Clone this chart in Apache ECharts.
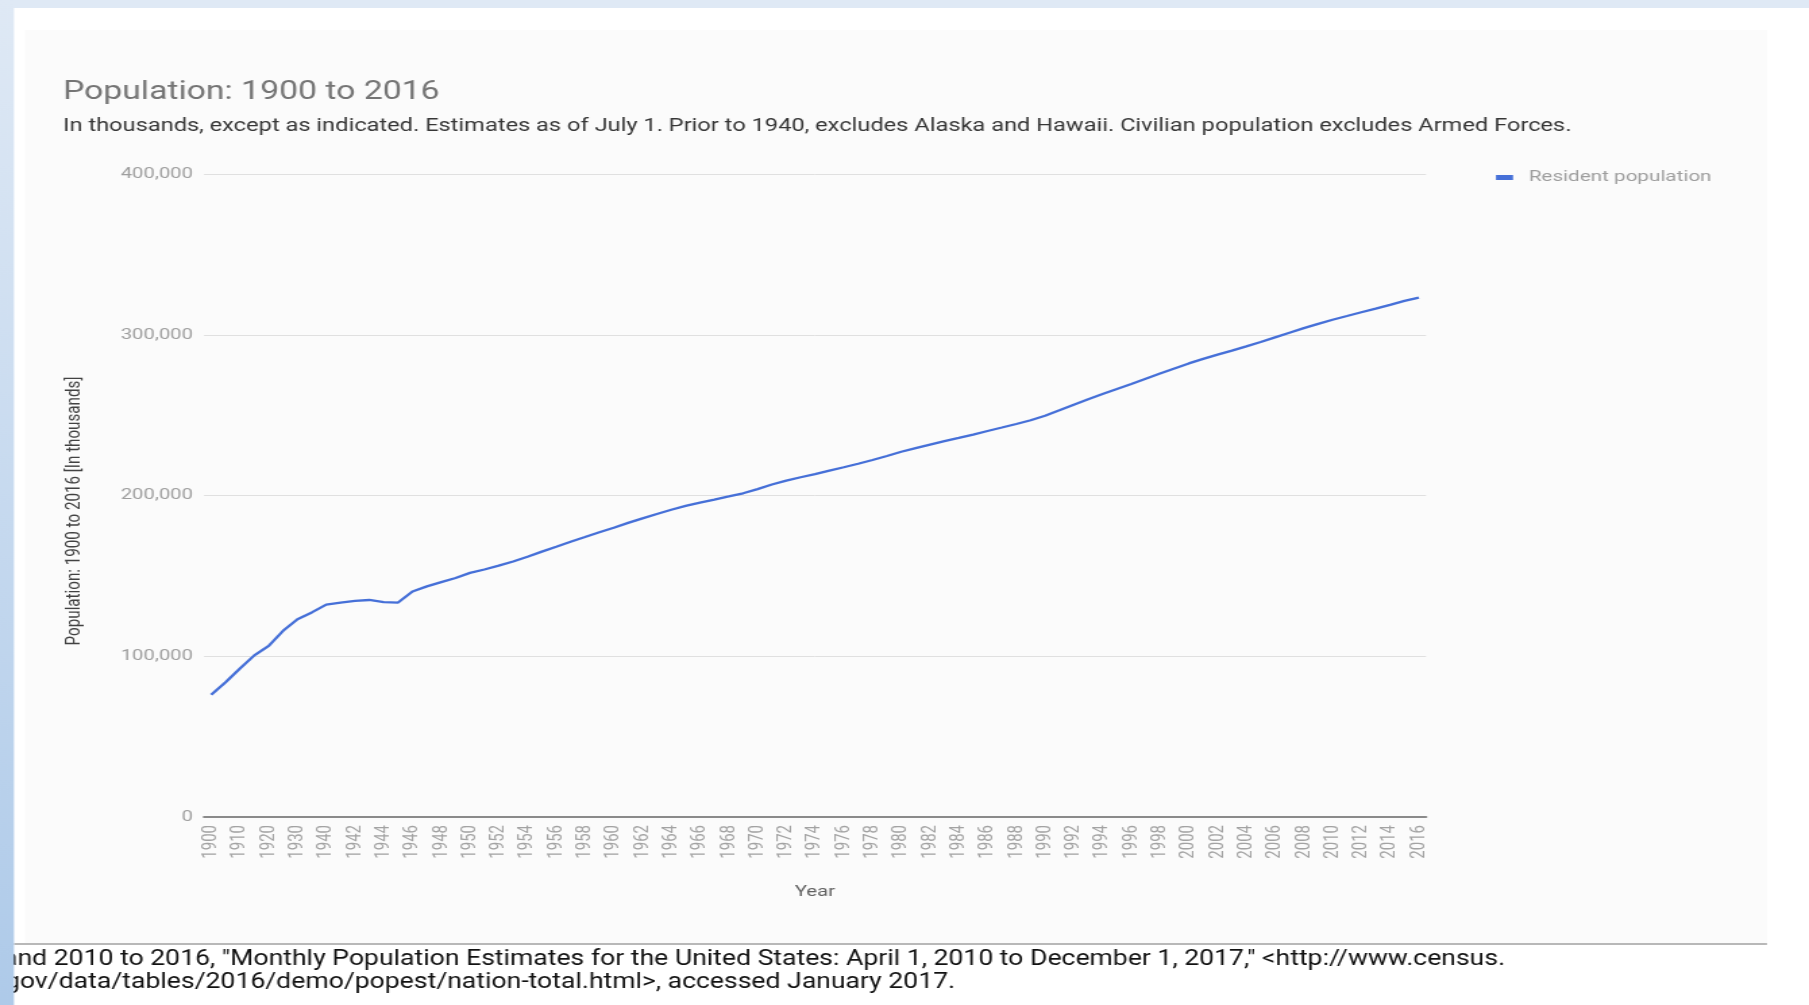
<!DOCTYPE html>
<html>
<head>
<meta charset="utf-8">
<script src="https://cdn.jsdelivr.net/npm/echarts@6/dist/echarts.min.js"></script>
<style>
  html, body { margin: 0; padding: 0; background: #ffffff; }
  #wrap { width: 1809px; height: 1005px; overflow: hidden; position: relative; background: #ffffff; }
  #chart { position: absolute; left: 0; top: 0; height: 1005px; transform-origin: 0 0; }
</style>
</head>
<body>
<div id="wrap"><div id="chart"></div></div>
<script>
// ---------- data ----------
const years = ['1900','1905','1910','1915','1920','1925','1930','1935','1940',
  '1941','1942','1943','1944','1945','1946','1947','1948','1949','1950',
  '1951','1952','1953','1954','1955','1956','1957','1958','1959','1960',
  '1961','1962','1963','1964','1965','1966','1967','1968','1969','1970',
  '1971','1972','1973','1974','1975','1976','1977','1978','1979','1980',
  '1981','1982','1983','1984','1985','1986','1987','1988','1989','1990',
  '1991','1992','1993','1994','1995','1996','1997','1998','1999','2000',
  '2001','2002','2003','2004','2005','2006','2007','2008','2009','2010',
  '2011','2012','2013','2014','2015','2016'];
const residentPopulation = [76094, 83822, 92407, 100546, 106461, 115829, 123077, 127250, 132122,
  133400, 134500, 135000, 133700, 133400, 140300, 143446, 146093, 148665, 151868,
  153982, 156393, 158956, 161884, 165069, 168088, 171187, 174149, 177135, 179979,
  182992, 185771, 188483, 191141, 193526, 195576, 197457, 199399, 201385, 203984,
  206827, 209284, 211357, 213342, 215465, 217563, 219760, 222095, 224567, 227225,
  229466, 231664, 233792, 235825, 237924, 240133, 242289, 244499, 246819, 249623,
  252981, 256514, 259919, 263126, 266278, 269394, 272647, 275854, 279040, 282162,
  284969, 287625, 290108, 292805, 295517, 298380, 301231, 304094, 306772, 309338,
  311644, 313993, 316235, 318623, 321040, 323128];
const seriesName = 'Resident population';
const titleText = 'Population: 1900 to 2016';
const subtitleText = 'In thousands, except as indicated. Estimates as of July 1. Prior to 1940, excludes Alaska and Hawaii. Civilian population excludes Armed Forces.';
const yAxisTitle = 'Population: 1900 to 2016 [In thousands]';
const xAxisTitle = 'Year';
const footerLines = [
  'and 2010 to 2016, "Monthly Population Estimates for the United States: April 1, 2010 to December 1, 2017," <http://www.census.',
  'gov/data/tables/2016/demo/popest/nation-total.html>, accessed January 2017.'
];

// ---------- layout (the source screenshot is stretched horizontally) ----------
const S = 1.35;
const W = 1809 / S;
const X = px => px / S;
const chartEl = document.getElementById('chart');
chartEl.style.width = W + 'px';
chartEl.style.transform = 'scaleX(' + S + ')';

const mctx = document.createElement('canvas').getContext('2d');
function measure(text, font) { mctx.font = font; return mctx.measureText(text).width; }
const footerFont = '22px "Liberation Sans Narrow", Roboto, sans-serif';
const footerScale = X(1505 - 3) / measure(footerLines[0], footerFont);

const chart = echarts.init(chartEl, null, { renderer: 'canvas' });
const option = {
  backgroundColor: 'transparent',
  animation: false,
  title: {
    text: titleText,
    subtext: subtitleText,
    left: X(63),
    top: 80,
    padding: 0,
    itemGap: 13,
    textStyle: { fontFamily: 'Roboto', fontSize: 25, fontWeight: 'normal', color: '#757575' },
    subtextStyle: { fontFamily: 'Roboto', fontSize: 17.5, fontWeight: 'normal', color: '#363636' }
  },
  legend: {
    data: [seriesName],
    left: X(1496),
    top: 170,
    padding: 0,
    icon: 'rect',
    itemWidth: X(17),
    itemHeight: 5,
    textStyle: { fontFamily: 'Roboto', fontSize: 15.3, color: '#9e9e9e', padding: [0, 0, 0, X(9)] }
  },
  grid: {
    left: X(204),
    right: W - X(1426),
    top: 174,
    bottom: 1005 - 817,
    containLabel: false,
    outerBoundsMode: 'none'
  },
  xAxis: {
    type: 'category',
    data: years,
    boundaryGap: true,
    name: xAxisTitle,
    nameLocation: 'middle',
    nameGap: 68,
    nameTextStyle: { fontFamily: 'Roboto', fontSize: 15, color: '#616161' },
    axisLine: { lineStyle: { color: '#8a8a8a', width: 2 } },
    axisTick: { show: false },
    axisLabel: { interval: 1, rotate: 90, margin: 8, fontFamily: 'Roboto', fontSize: 15, color: '#a3a3a3' },
    splitLine: { show: false }
  },
  yAxis: {
    type: 'value',
    min: 0,
    max: 400000,
    interval: 100000,
    axisLine: { show: false },
    axisTick: { show: false },
    axisLabel: { margin: X(11), fontFamily: 'Roboto', fontSize: 15, color: '#9e9e9e',
      formatter: v => v.toLocaleString('en-US') },
    splitLine: { lineStyle: { color: '#e0e0e0', width: 1 } }
  },
  series: [{
    name: seriesName,
    type: 'line',
    data: residentPopulation,
    showSymbol: false,
    symbol: 'none',
    smooth: false,
    lineStyle: { color: '#4670d8', width: 2.3 },
    itemStyle: { color: '#4670d8' }
  }],
  graphic: [
    { type: 'rect', z: -20, silent: true, shape: { x: X(25), y: 30, width: X(1767) - X(25), height: 913 },
      style: { fill: '#fbfbfb' } },
    { type: 'text', z: 5, silent: true, x: X(75), y: 511, rotation: Math.PI / 2,
      style: { text: yAxisTitle, fontFamily: 'Roboto', fontSize: 15.2, fill: '#424242',
        align: 'center', verticalAlign: 'middle' } },
    { type: 'line', z: 5, silent: true, shape: { x1: X(14), y1: 944, x2: X(1767), y2: 944 },
      style: { stroke: '#a0a0a0', lineWidth: 1.5 } },
    { type: 'text', z: 5, silent: true, x: X(3), y: 959, scaleX: footerScale,
      style: { text: footerLines[0], font: footerFont, fill: '#111111', verticalAlign: 'middle' } },
    { type: 'text', z: 5, silent: true, x: X(5), y: 982, scaleX: footerScale,
      style: { text: footerLines[1], font: footerFont, fill: '#111111', verticalAlign: 'middle' } },
    { type: 'rect', z: 30, silent: true, shape: { x: 0, y: 0, width: W, height: 8 },
      style: { fill: '#dfe9f5' } },
    { type: 'rect', z: 31, silent: true, shape: { x: 0, y: 0, width: X(14), height: 1005 },
      style: { fill: new echarts.graphic.LinearGradient(0, 0, 0, 1, [
        { offset: 0, color: '#dfe9f5' }, { offset: 1, color: '#aecae9' }]) } }
  ]
};
chart.setOption(option);
</script>
</body>
</html>
